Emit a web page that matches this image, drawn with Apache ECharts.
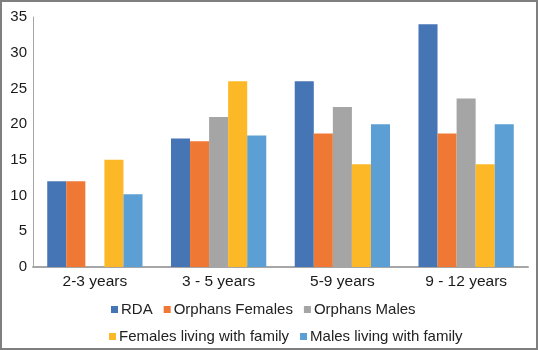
<!DOCTYPE html>
<html>
<head>
<meta charset="utf-8">
<script src="https://cdn.jsdelivr.net/npm/echarts@6/dist/echarts.min.js"></script>
<style>
  html, body { margin: 0; padding: 0; background: #fff; }
  #chart { width: 538px; height: 350px; box-sizing: border-box; border: 2px solid #7f7f7f; }
</style>
</head>
<body>
<div id="chart"></div>
<script>
// age groups
const categories = ['2-3 years', '3 - 5 years', '5-9 years', '9 - 12 years'];
const rda = [12, 18, 26, 34];
const orphansFemales = [12, 17.6, 18.7, 18.7];
const orphansMales = [null, 21, 22.4, 23.6];
const femalesFamily = [15, 26, 14.4, 14.4];
const malesFamily = [10.2, 18.4, 20, 20];
const yTicks = [0, 5, 10, 15, 20, 25, 30, 35];

const seriesDefs = [
    { name: 'RDA', data: rda, color: '#4675B6' },
    { name: 'Orphans Females', data: orphansFemales, color: '#EE7834' },
    { name: 'Orphans Males', data: orphansMales, color: '#A5A5A5' },
    { name: 'Females living with family', data: femalesFamily, color: '#FDB827' },
    { name: 'Males living with family', data: malesFamily, color: '#5B9FD4' }
];

const chart = echarts.init(document.getElementById('chart'));
const font = 'Liberation Sans, Arial, sans-serif';
const legendBase = {
    orient: 'horizontal',
    itemWidth: 7,
    itemHeight: 7,
    itemGap: 11,
    icon: 'rect',
    textStyle: { fontFamily: font, fontSize: 15, color: '#222', padding: [0, 0, 0, -2] }
};

chart.setOption({
    animation: false,
    grid: { left: 31, right: 8, top: 15, bottom: 81 },
    legend: [
        Object.assign({}, legendBase, { left: 104, top: 295, data: ['RDA', 'Orphans Females', 'Orphans Males'] }),
        Object.assign({}, legendBase, { left: 102, top: 322, data: ['Females living with family', 'Males living with family'] })
    ],
    xAxis: {
        type: 'category',
        data: categories,
        axisTick: { show: false },
        axisLine: { lineStyle: { color: '#A6A6A6', width: 2 } },
        axisLabel: { fontFamily: font, fontSize: 15.5, color: '#1a1a1a', margin: 7 }
    },
    yAxis: {
        type: 'value',
        min: yTicks[0],
        max: yTicks[yTicks.length - 1],
        interval: 5,
        splitLine: { show: false },
        axisTick: { show: false },
        axisLine: { show: true, lineStyle: { color: '#A6A6A6', width: 1 } },
        axisLabel: { fontFamily: font, fontSize: 15, color: '#1a1a1a', margin: 6 }
    },
    series: seriesDefs.map(s => ({
        name: s.name,
        type: 'bar',
        data: s.data,
        barGap: '0%',
        barCategoryGap: '23%',
        itemStyle: { color: s.color }
    }))
});
</script>
</body>
</html>
